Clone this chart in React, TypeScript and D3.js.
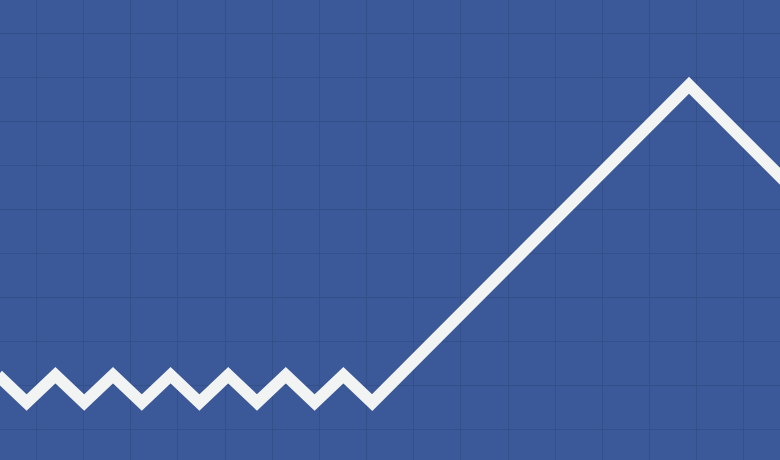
import React, { useEffect, useRef } from 'react';
import * as d3 from 'd3';

// line vertices: step index along x, level along y (valley = 0, small peak = 1)
const steps = [0, 1, 2, 3, 4, 5, 6, 7, 8, 9, 10, 11, 12, 13, 24, 28];
const levels = [1, 0, 1, 0, 1, 0, 1, 0, 1, 0, 1, 0, 1, 0, 11.62, 7.4];

// background grid cells
const gridCols = d3.range(-1, 17);
const gridRows = d3.range(-1, 11);

const width = 780;
const height = 460;

const App: React.FC = () => {
  const svgRef = useRef<SVGSVGElement>(null);

  useEffect(() => {
    if (!svgRef.current) return;
    const svg = d3.select(svgRef.current);
    svg.selectAll('*').remove();

    const x = d3.scaleLinear().domain([0, 1]).range([-2.2, 26.6]);
    const y = d3.scaleLinear().domain([0, 1]).range([402.5, 375.2]);

    const gx = d3.scaleLinear().domain([0, 1]).range([36, 83.15]);
    const gy = d3.scaleLinear().domain([0, 1]).range([32.5, 76.5]);

    svg.append('rect')
      .attr('width', width)
      .attr('height', height)
      .attr('fill', '#3b5998');

    // Grid lines
    const grid = svg.append('g')
      .attr('stroke', '#34508a')
      .attr('stroke-width', 1)
      .attr('shape-rendering', 'crispEdges');

    grid.selectAll('line.v')
      .data(gridCols)
      .join('line')
      .attr('class', 'v')
      .attr('x1', d => Math.round(gx(d)) + 0.5)
      .attr('x2', d => Math.round(gx(d)) + 0.5)
      .attr('y1', 0)
      .attr('y2', height);

    grid.selectAll('line.h')
      .data(gridRows)
      .join('line')
      .attr('class', 'h')
      .attr('y1', d => Math.round(gy(d)) + 0.5)
      .attr('y2', d => Math.round(gy(d)) + 0.5)
      .attr('x1', 0)
      .attr('x2', width);

    const points: [number, number][] = steps.map((s, i) => [s, levels[i]]);
    const line = d3.line<[number, number]>()
      .x(d => x(d[0]))
      .y(d => y(d[1]));

    svg.append('path')
      .attr('d', line(points))
      .attr('fill', 'none')
      .attr('stroke', '#f2f4f3')
      .attr('stroke-width', 12)
      .attr('stroke-linejoin', 'miter')
      .attr('stroke-miterlimit', 10);
  }, []);

  return (
    <div style={{ position: 'absolute', left: 0, top: 0, width, height, overflow: 'hidden' }}>
      <svg ref={svgRef} width={width} height={height} viewBox={`0 0 ${width} ${height}`} style={{ display: 'block' }} />
    </div>
  );
};

export default App;
